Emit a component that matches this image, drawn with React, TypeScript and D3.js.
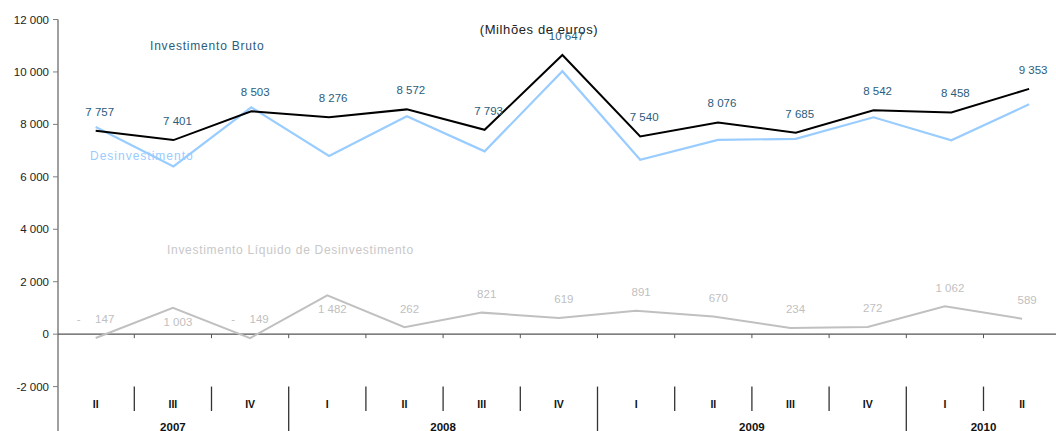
import React from 'react';
import * as d3 from 'd3';

// quarters on the category axis
const quarters = ['II', 'III', 'IV', 'I', 'II', 'III', 'IV', 'I', 'II', 'III', 'IV', 'I', 'II'];
const years = ['2007', '2008', '2009', '2010'];
const yearSpans = [3, 4, 4, 2];

// Milhões de euros
const investimentoBruto = [7757, 7401, 8503, 8276, 8572, 7793, 10647, 7540, 8076, 7685, 8542, 8458, 9353];
const desinvestimento = [7904, 6398, 8652, 6794, 8310, 6972, 10028, 6649, 7406, 7451, 8270, 7396, 8764];
const investimentoLiquido = [-147, 1003, -149, 1482, 262, 821, 619, 891, 670, 234, 272, 1062, 589];

const yTicks = [-2000, 0, 2000, 4000, 6000, 8000, 10000, 12000];

const W = 1056;
const H = 431;
const FONT = '"Liberation Sans", Arial, sans-serif';
const TEAL = '#2b5d7c';
const BLUE = '#99ccff';
const GRAY = '#c0c0c0';

const fmt = (v: number) => {
  const s = Math.abs(v).toString();
  return s.length > 3 ? s.slice(0, s.length - 3) + ' ' + s.slice(-3) : s;
};

export default function App() {
  const idx = quarters.map((_, i) => String(i));

  // axis + net series
  const x = d3.scaleBand().domain(idx).range([57.1, 1060.7]);
  // the two upper lines sit on a slightly wider band
  const x2 = d3.scaleBand().domain(idx).range([56.8, 1068]);
  const y = d3.scaleLinear().domain([-2000, 12000]).range([386.6, 19.5]);

  const cx = (i: number) => (x(String(i)) as number) + x.bandwidth() / 2;
  const cx2 = (i: number) => (x2(String(i)) as number) + x2.bandwidth() / 2;

  const line1 = d3.line<number>().x((_, i) => cx2(i)).y(d => y(d));
  const line0 = d3.line<number>().x((_, i) => cx(i)).y(d => y(d));

  const y0 = y(0);
  const yBottom = y(-2000);

  // quarter separators and year boundaries
  const yearStarts: number[] = [];
  let acc = 0;
  yearSpans.forEach(n => { yearStarts.push(acc); acc += n; });

  const seps = d3.range(1, quarters.length).map(k => ({
    x: x(String(k)) as number,
    year: yearStarts.includes(k),
  }));

  const liqBelow = [1, 3];

  return (
    <svg width={W} height={H} style={{ position: 'absolute', left: 0, top: 0, background: '#fff' }}
      fontFamily={FONT}>
      {/* y axis */}
      <line x1={58} x2={58} y1={y(12000)} y2={H} stroke="#7f7f7f" strokeWidth={1.5} />
      {yTicks.map(t => (
        <g key={t}>
          <line x1={53} x2={58} y1={y(t)} y2={y(t)} stroke="#7f7f7f" />
          <text x={49} y={y(t) + 4} textAnchor="end" fontSize={11.5} fill="#222">
            {t < 0 ? '-' + fmt(t) : fmt(t)}
          </text>
        </g>
      ))}

      {/* zero line with ticks */}
      <line x1={58} x2={W} y1={y0} y2={y0} stroke="#555" strokeWidth={1.3} />
      {seps.map((s, i) => (
        <line key={i} x1={s.x} x2={s.x} y1={y0} y2={y0 + 4} stroke="#555" />
      ))}

      {/* category labels */}
      {seps.map((s, i) => (
        <line key={'s' + i} x1={s.x} x2={s.x} y1={yBottom} y2={s.year ? H : 411} stroke="#333" strokeWidth={1.3} />
      ))}
      {quarters.map((q, i) => (
        <text key={'q' + i} x={cx(i)} y={408} textAnchor="middle" fontSize={10.5} fontWeight="bold" fill="#111">{q}</text>
      ))}
      {years.map((yr, i) => {
        const a = x(String(yearStarts[i])) as number;
        const b = a + yearSpans[i] * x.bandwidth();
        return (
          <text key={yr} x={(a + b) / 2} y={430.5} textAnchor="middle" fontSize={11.5} fontWeight="bold" fill="#111">{yr}</text>
        );
      })}

      {/* title */}
      <text x={539} y={34} textAnchor="middle" fontSize={13} letterSpacing={0.6} fill="#222">(Milhões de euros)</text>

      {/* series */}
      <path d={line1(desinvestimento) || ''} fill="none" stroke={BLUE} strokeWidth={2.2} strokeLinejoin="miter" />
      <path d={line1(investimentoBruto) || ''} fill="none" stroke="#000" strokeWidth={2} />
      <path d={line0(investimentoLiquido) || ''} fill="none" stroke={GRAY} strokeWidth={2} />

      {/* labels */}
      {investimentoBruto.map((v, i) => (
        <text key={'b' + i} x={cx2(i) + 4} y={y(v) - 15} textAnchor="middle" fontSize={11.5} fill={TEAL}>{fmt(v)}</text>
      ))}
      {investimentoLiquido.map((v, i) => {
        const below = liqBelow.includes(i);
        const ty = below ? y(v) + 18 : y(v) - 14.7;
        if (v < 0) {
          return (
            <g key={'l' + i} fill="#bfbfbf" fontSize={11.5}>
              <text x={cx(i) - 17} y={ty} textAnchor="middle">-</text>
              <text x={cx(i) + 9} y={ty} textAnchor="middle">{fmt(v)}</text>
            </g>
          );
        }
        return (
          <text key={'l' + i} x={cx(i) + 5} y={ty} textAnchor="middle" fontSize={11.5} fill="#bfbfbf">{fmt(v)}</text>
        );
      })}

      {/* series names */}
      <text x={150} y={50} fontSize={12} letterSpacing={0.8} fill={TEAL}>Investimento Bruto</text>
      <text x={90} y={160} fontSize={12} letterSpacing={1} fill={BLUE}>Desinvestimento</text>
      <text x={167} y={254} fontSize={12} letterSpacing={0.7} fill="#c8c8c8">Investimento Líquido de Desinvestimento</text>
    </svg>
  );
}
